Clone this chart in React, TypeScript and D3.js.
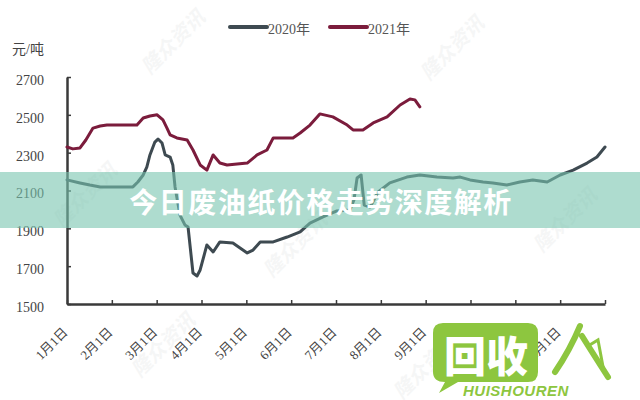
import { useEffect, useRef } from 'react';
import * as d3 from 'd3';

// x positions are in months from 1月1日 (0 = Jan 1, 12 = Dec 31)
const monthLabels = ['1月1日', '2月1日', '3月1日', '4月1日', '5月1日', '6月1日', '7月1日', '8月1日', '9月1日', '10月1日', '11月1日', '12月1日'];
const yTicks = [1500, 1700, 1900, 2100, 2300, 2500, 2700];

const months2020 = [0, 0.29, 0.51, 0.74, 1.47, 1.58, 1.7, 1.78, 1.85, 1.96, 2.03, 2.12, 2.19, 2.3, 2.36, 2.41, 2.52, 2.63, 2.7, 2.81, 2.9, 2.97, 3.12, 3.26, 3.41, 3.7, 4.02, 4.15, 4.31, 4.6, 4.91, 5.2, 5.42, 5.71, 6.02, 6.31, 6.4, 6.47, 6.56, 6.63, 6.76, 6.94, 7.2, 7.58, 7.87, 8.25, 8.61, 8.77, 8.99, 9.28, 9.5, 9.81, 10.1, 10.39, 10.71, 11.0, 11.29, 11.6, 11.82, 12.0];
const prices2020 = [2156, 2140, 2129, 2119, 2119, 2145, 2182, 2224, 2288, 2356, 2372, 2351, 2288, 2277, 2235, 2119, 1970, 1918, 1907, 1664, 1648, 1680, 1812, 1775, 1828, 1822, 1770, 1785, 1828, 1828, 1854, 1881, 1928, 1960, 1992, 1997, 2050, 2166, 2182, 2023, 2013, 2092, 2140, 2171, 2182, 2171, 2166, 2171, 2156, 2145, 2140, 2129, 2145, 2156, 2145, 2182, 2208, 2245, 2277, 2330];

const months2021 = [0, 0.13, 0.29, 0.42, 0.58, 0.74, 0.89, 1.56, 1.7, 1.85, 2.01, 2.14, 2.23, 2.3, 2.45, 2.68, 2.81, 2.97, 3.12, 3.26, 3.41, 3.57, 4.02, 4.24, 4.46, 4.6, 5.04, 5.2, 5.42, 5.64, 5.93, 6.25, 6.38, 6.6, 6.83, 7.14, 7.43, 7.65, 7.76, 7.87];
const prices2021 = [2330, 2320, 2325, 2367, 2430, 2441, 2446, 2446, 2483, 2494, 2500, 2473, 2430, 2394, 2378, 2367, 2314, 2235, 2208, 2288, 2245, 2235, 2245, 2288, 2314, 2378, 2378, 2404, 2446, 2505, 2489, 2446, 2420, 2420, 2457, 2489, 2552, 2584, 2579, 2542];

const seriesNames = ['2020年', '2021年'];
const seriesColors = ['#3e4a51', '#7b1c3c'];

const serif = "'Liberation Serif', 'Noto Sans CJK SC', serif";
const green = '#8dc63f';

export default function App() {
  const svgRef = useRef<SVGSVGElement>(null);

  useEffect(() => {
    if (!svgRef.current) return;
    const svg = d3.select(svgRef.current);
    svg.selectAll('*').remove();

    const x = d3.scaleLinear().domain([0, 12]).range([67, 605]);
    const y = d3.scaleLinear().domain([1500, 2700]).range([304, 77]);

    svg.append('rect').attr('width', 640).attr('height', 400).attr('fill', '#fff');

    // faint watermarks
    const marks = [
      [178, 47], [457, 53], [300, 250], [168, 350], [570, 225], [430, 372], [90, 200],
    ];
    svg
      .selectAll('.wm')
      .data(marks)
      .join('text')
      .attr('class', 'wm')
      .attr('transform', (d) => `translate(${d[0]},${d[1]}) rotate(-45)`)
      .attr('text-anchor', 'middle')
      .attr('font-family', "'Noto Sans CJK SC', sans-serif")
      .attr('font-size', 20)
      .attr('font-weight', 700)
      .attr('font-style', 'italic')
      .attr('fill', '#a8adad')
      .attr('opacity', 0.1)
      .text('隆众资讯');

    // unit
    svg
      .append('text')
      .attr('x', 12)
      .attr('y', 49)
      .attr('dominant-baseline', 'central')
      .attr('font-family', serif)
      .attr('font-size', 14)
      .attr('fill', '#444')
      .text('元/吨');

    // y axis
    const yAxis = svg
      .append('g')
      .attr('transform', 'translate(67,0)')
      .call(d3.axisLeft(y).tickValues(yTicks).tickSize(-4).tickSizeOuter(0).tickPadding(23).tickFormat(d3.format('d')));
    yAxis.select('.domain').attr('stroke', '#3a3a3a').attr('stroke-width', 2.5);
    yAxis.selectAll('.tick line').attr('stroke', '#3a3a3a').attr('stroke-width', 1.5);
    yAxis
      .selectAll('.tick text')
      .attr('dy', '0.32em')
      .attr('y', 3)
      .attr('font-family', serif)
      .attr('font-size', 14)
      .attr('fill', '#444');

    // x axis
    const xAxis = svg
      .append('g')
      .attr('transform', 'translate(0,304)')
      .call(
        d3
          .axisBottom(x)
          .tickValues(d3.range(13))
          .tickSize(-4)
          .tickSizeOuter(0)
          .tickFormat((d) => monthLabels[+d] ?? '')
      );
    xAxis.select('.domain').attr('stroke', '#3a3a3a').attr('stroke-width', 2.5);
    xAxis.selectAll('.tick line').attr('stroke', '#3a3a3a').attr('stroke-width', 1.5);
    xAxis
      .selectAll('.tick text')
      .attr('x', 0)
      .attr('y', 0)
      .attr('dy', 0)
      .attr('text-anchor', 'end')
      .attr('transform', 'translate(1,29) rotate(-45)')
      .attr('font-family', serif)
      .attr('font-size', 13)
      .attr('fill', '#444');

    // lines
    const line = d3
      .line<[number, number]>()
      .x((d) => x(d[0]))
      .y((d) => y(d[1]));
    const series: [number, number][][] = [
      months2020.map((m, i) => [m, prices2020[i]]),
      months2021.map((m, i) => [m, prices2021[i]]),
    ];
    svg
      .selectAll('.series')
      .data(series)
      .join('path')
      .attr('class', 'series')
      .attr('d', (d) => line(d))
      .attr('fill', 'none')
      .attr('stroke', (_, i) => seriesColors[i])
      .attr('stroke-width', 3)
      .attr('stroke-linejoin', 'round')
      .attr('stroke-linecap', 'round');

    // legend
    const legendX = [230, 330];
    const lg = svg
      .selectAll('.legend')
      .data(seriesNames)
      .join('g')
      .attr('class', 'legend')
      .attr('transform', (_, i) => `translate(${legendX[i]},27)`);
    lg.append('line')
      .attr('x1', 0)
      .attr('x2', 37)
      .attr('stroke', (_, i) => seriesColors[i])
      .attr('stroke-width', 4)
      .attr('stroke-linecap', 'round');
    lg.append('text')
      .attr('x', 38)
      .attr('y', 2)
      .attr('dominant-baseline', 'central')
      .attr('font-family', serif)
      .attr('font-size', 14)
      .attr('fill', '#555')
      .text((d) => d);

    // title banner
    svg
      .append('rect')
      .attr('x', 0)
      .attr('y', 172)
      .attr('width', 640)
      .attr('height', 56)
      .attr('fill', 'rgb(120,196,175)')
      .attr('opacity', 0.6);
    svg
      .append('text')
      .attr('x', 321)
      .attr('y', 201)
      .attr('text-anchor', 'middle')
      .attr('dominant-baseline', 'central')
      .attr('font-family', "'Noto Sans CJK SC', sans-serif")
      .attr('font-size', 28)
      .attr('font-weight', 700)
      .attr('letter-spacing', 1.5)
      .attr('fill', '#fff')
      .text('今日废油纸价格走势深度解析');

    // logo
    const logo = svg.append('g');
    logo
      .append('path')
      .attr('d', 'M443,323 H528 Q538,323 538,333 V372 Q538,382 528,382 H458 L439,393 L445,382 Q433,382 433,372 V333 Q433,323 443,323 Z')
      .attr('fill', green);
    logo
      .append('text')
      .attr('x', 486)
      .attr('y', 353)
      .attr('text-anchor', 'middle')
      .attr('dominant-baseline', 'central')
      .attr('font-family', "'Noto Sans CJK SC', sans-serif")
      .attr('font-size', 42)
      .attr('font-weight', 900)
      .attr('fill', '#fff')
      .text('回收');
    logo
      .append('path')
      .attr('d', 'M580,326 Q570,350 555,372 M582,336 Q592,352 608,377')
      .attr('fill', 'none')
      .attr('stroke', green)
      .attr('stroke-width', 6)
      .attr('stroke-linecap', 'round');
    logo
      .append('path')
      .attr('d', 'M588,346 L598,340 L604,372')
      .attr('fill', 'none')
      .attr('stroke', green)
      .attr('stroke-width', 3)
      .attr('stroke-linecap', 'round');
    logo
      .append('text')
      .attr('x', 463)
      .attr('y', 396)
      .attr('font-family', "'Liberation Sans', sans-serif")
      .attr('font-size', 15)
      .attr('font-weight', 700)
      .attr('font-style', 'italic')
      .attr('letter-spacing', 0.5)
      .attr('fill', green)
      .attr('dx', 0)
      .text('HUISHOUREN');
  }, []);

  return (
    <svg
      ref={svgRef}
      width={640}
      height={400}
      style={{ position: 'absolute', left: 0, top: 0, display: 'block' }}
    />
  );
}
